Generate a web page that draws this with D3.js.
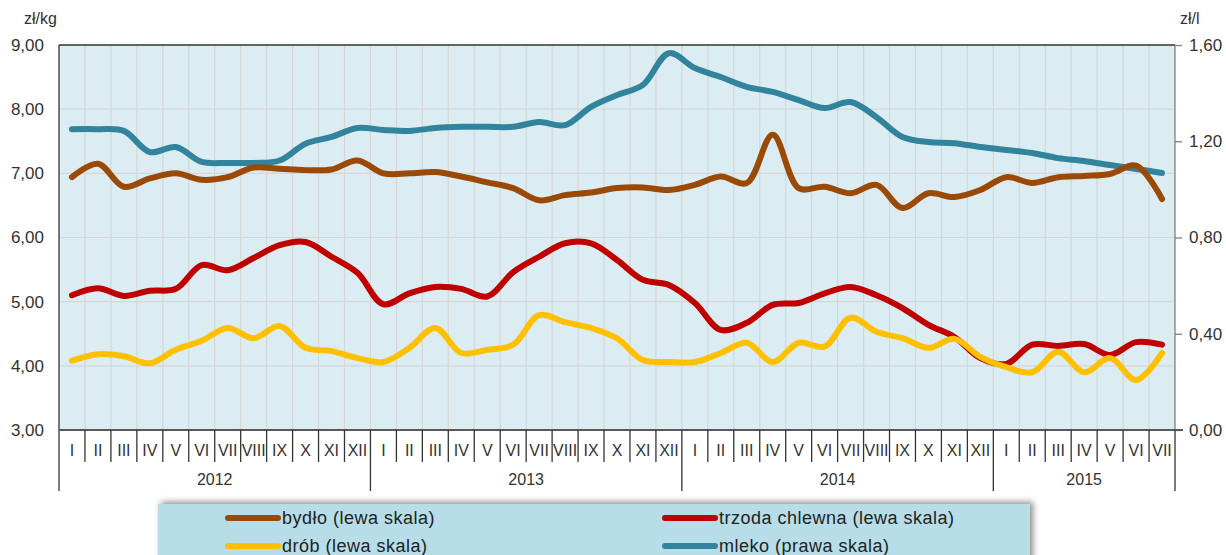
<!DOCTYPE html>
<html><head><meta charset="utf-8">
<script src="https://cdn.jsdelivr.net/npm/d3@7"></script>
<style>body{margin:0;background:#fff}svg{display:block;font-family:"Liberation Sans",Arial,sans-serif}</style>
</head><body>
<svg id="c" width="1226" height="555"></svg>
<script>
const monthNames = ["I","II","III","IV","V","VI","VII","VIII","IX","X","XI","XII"];
const years = [2012, 2013, 2014, 2015];
const monthsPerYear = [12, 12, 12, 7];
const leftTicks = [3, 4, 5, 6, 7, 8, 9];
const rightTicks = [0, 0.4, 0.8, 1.2, 1.6];

const bydlo = [6.94,7.15,6.79,6.92,7.0,6.9,6.94,7.09,7.07,7.05,7.06,7.2,
               7.0,7.0,7.02,6.95,6.86,6.77,6.58,6.66,6.7,6.77,6.78,6.74,
               6.82,6.95,6.85,7.6,6.77,6.79,6.69,6.82,6.46,6.69,6.63,6.74,
               6.94,6.85,6.94,6.96,6.99,7.12,6.6];
const trzoda = [5.1,5.21,5.09,5.17,5.2,5.57,5.49,5.68,5.88,5.93,5.7,5.45,
                4.96,5.13,5.23,5.2,5.08,5.46,5.7,5.91,5.91,5.65,5.34,5.26,
                4.98,4.56,4.67,4.95,4.98,5.13,5.23,5.1,4.9,4.64,4.45,4.12,
                4.03,4.33,4.31,4.34,4.17,4.37,4.33];
const drob = [4.08,4.18,4.15,4.04,4.25,4.39,4.59,4.43,4.62,4.28,4.23,4.12,
              4.06,4.28,4.59,4.2,4.25,4.33,4.79,4.68,4.59,4.43,4.09,4.06,
              4.06,4.2,4.36,4.06,4.36,4.3,4.75,4.53,4.43,4.28,4.42,4.14,
              3.98,3.9,4.22,3.9,4.12,3.78,4.2];
const mleko = [1.25,1.25,1.243,1.155,1.176,1.114,1.11,1.11,1.12,1.19,1.218,1.255,
               1.247,1.243,1.255,1.26,1.26,1.26,1.28,1.267,1.343,1.392,1.434,1.566,
               1.504,1.467,1.426,1.405,1.371,1.338,1.363,1.3,1.218,1.197,1.192,1.176,
               1.164,1.151,1.13,1.118,1.101,1.085,1.068];

const seriesNames = ["bydło (lewa skala)","trzoda chlewna (lewa skala)","drób (lewa skala)","mleko (prawa skala)"];
const seriesColors = ["#9a4a06","#c00000","#ffc000","#31849b"];

const months = [];
years.forEach((y, yi) => { for (let m = 0; m < monthsPerYear[yi]; m++) months.push({year: y, label: monthNames[m]}); });
const idx = months.map((d, i) => i);

const svg = d3.select("#c");
const L = 59, R = 1175, T = 45, B = 430;
const x = d3.scaleBand().domain(idx).range([L, R]);
const yL = d3.scaleLinear().domain([3, 9]).range([B, T]);
const yR = d3.scaleLinear().domain([0, 1.6]).range([B, T]);
const fmt = v => d3.format(".2f")(v).replace(".", ",");

svg.append("rect").attr("x", L).attr("y", T).attr("width", R - L).attr("height", B - T).attr("fill", "#dbedf3");
svg.append("g").selectAll("line").data(idx.slice(1)).join("line")
  .attr("x1", d => x(d)).attr("x2", d => x(d)).attr("y1", T).attr("y2", B)
  .attr("stroke", "#d6d6d6").attr("stroke-width", 1.2);
svg.append("g").selectAll("line").data(leftTicks.slice(1, -1)).join("line")
  .attr("x1", L).attr("x2", R).attr("y1", d => yL(d)).attr("y2", d => yL(d))
  .attr("stroke", "#d6d6d6").attr("stroke-width", 1.2);

svg.append("line").attr("x1", L).attr("x2", R).attr("y1", T).attr("y2", T).attr("stroke", "#333").attr("stroke-width", 1.3);
svg.append("line").attr("x1", R).attr("x2", R).attr("y1", T).attr("y2", B).attr("stroke", "#808080").attr("stroke-width", 1.3);

svg.append("g").selectAll("text").data(leftTicks).join("text")
  .attr("x", 44).attr("y", d => yL(d)).attr("dy", "0.35em").attr("text-anchor", "end")
  .attr("font-size", 17).attr("fill", "#333").text(fmt);
const ra = svg.append("g").attr("transform", `translate(${R},0)`)
  .call(d3.axisRight(yR).tickValues(rightTicks).tickSize(7).tickFormat(fmt).tickPadding(7));
ra.select(".domain").remove();
ra.selectAll(".tick line").attr("stroke", "#808080").attr("stroke-width", 1.3);
ra.selectAll(".tick text").attr("font-size", 17).attr("fill", "#333").attr("font-family", "Liberation Sans, Arial, sans-serif");

svg.append("text").attr("x", 24).attr("y", 24).attr("font-size", 16).attr("fill", "#333").text("zł/kg");
svg.append("text").attr("x", 1180).attr("y", 24).attr("font-size", 16).attr("fill", "#333").text("zł/l");

const line = ys => d3.line().x((d, i) => x(i) + x.bandwidth() / 2).y(d => ys(d)).curve(d3.curveCatmullRom.alpha(0.5));
const seriesData = [[bydlo, yL], [trzoda, yL], [drob, yL], [mleko, yR]];
const paths = svg.append("g");
[3, 0, 1, 2].forEach(si => {
  const [data, ys] = seriesData[si];
  paths.append("path").attr("d", line(ys)(data)).attr("fill", "none")
    .attr("stroke", seriesColors[si]).attr("stroke-width", 6)
    .attr("stroke-linejoin", "round").attr("stroke-linecap", "round");
});

svg.append("line").attr("x1", L).attr("x2", L).attr("y1", T).attr("y2", 491).attr("stroke", "#333").attr("stroke-width", 1.3);
svg.append("line").attr("x1", L).attr("x2", R + 8).attr("y1", B).attr("y2", B).attr("stroke", "#595959").attr("stroke-width", 2);

const yearStart = new Set();
let acc = 0; monthsPerYear.forEach(n => { yearStart.add(acc); acc += n; });
svg.append("g").selectAll("line").data(idx.slice(1)).join("line")
  .attr("x1", d => x(d)).attr("x2", d => x(d)).attr("y1", B)
  .attr("y2", d => yearStart.has(d) ? 491 : 462)
  .attr("stroke", "#333").attr("stroke-width", 1.3);
svg.append("line").attr("x1", R).attr("x2", R).attr("y1", B).attr("y2", 491).attr("stroke", "#333").attr("stroke-width", 1.3);
svg.append("g").selectAll("text").data(months).join("text")
  .attr("x", (d, i) => x(i) + x.bandwidth() / 2).attr("y", 456)
  .attr("text-anchor", "middle").attr("font-size", 16).attr("fill", "#333").text(d => d.label);
acc = 0;
const yearPos = monthsPerYear.map(n => { const s = acc; acc += n; return [s, acc - 1]; });
svg.append("g").selectAll("text").data(years).join("text")
  .attr("x", (d, i) => (x(yearPos[i][0]) + x(yearPos[i][1]) + x.bandwidth()) / 2).attr("y", 485)
  .attr("text-anchor", "middle").attr("font-size", 16).attr("fill", "#333").text(d => d);

const defs = svg.append("defs");
const f = defs.append("filter").attr("id", "sh").attr("x", "-5%").attr("y", "-40%").attr("width", "115%").attr("height", "180%");
f.append("feDropShadow").attr("dx", 3).attr("dy", -2).attr("stdDeviation", 3).attr("flood-color", "#000").attr("flood-opacity", 0.45);
svg.append("rect").attr("x", 158).attr("y", 504).attr("width", 872).attr("height", 70)
  .attr("fill", "#b6dde8").attr("filter", "url(#sh)");
const legPos = [[228, 518], [665, 518], [228, 546], [665, 546]];
const lg = svg.append("g").selectAll("g").data(seriesNames).join("g")
  .attr("transform", (d, i) => `translate(${legPos[i][0]},${legPos[i][1]})`);
lg.append("line").attr("x1", 0).attr("x2", 50).attr("stroke", (d, i) => seriesColors[i])
  .attr("stroke-width", 6).attr("stroke-linecap", "round");
lg.append("text").attr("x", 54).attr("dy", "0.35em").attr("font-size", 18).attr("letter-spacing", 0.5)
  .attr("fill", "#222").text(d => d);
</script>
</body></html>
